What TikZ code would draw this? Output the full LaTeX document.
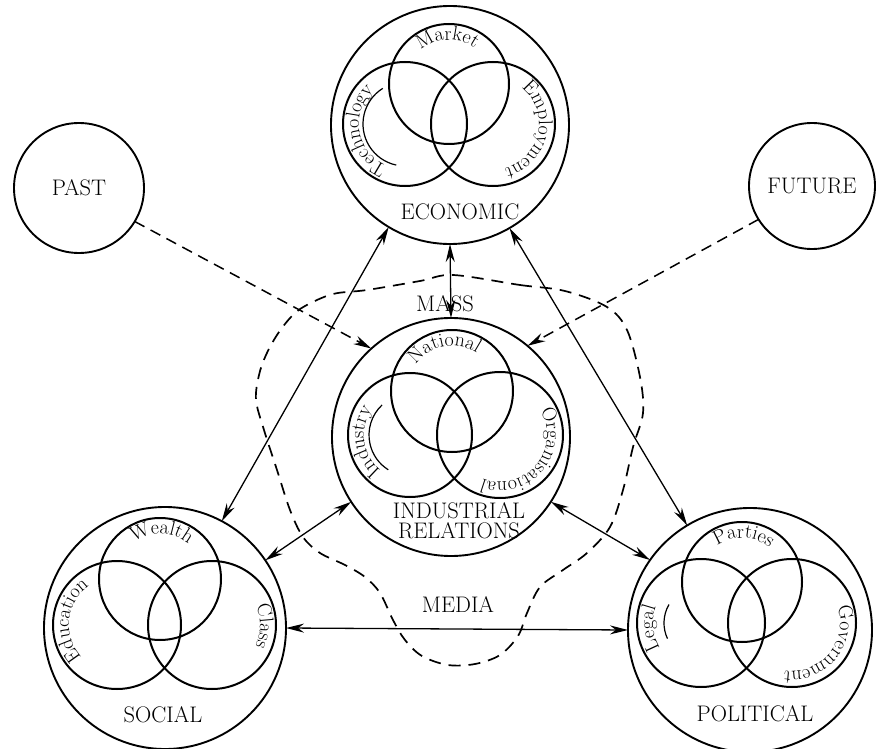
\documentclass[tikz,border=0pt]{standalone}
\usepackage{fontspec}
\usetikzlibrary{arrows.meta,decorations.text}
\newcommand\bigfont{\fontsize{22.5}{20}\selectfont}
\newcommand\vennfont{\fontsize{20}{20}\selectfont}
% word set round the inside of a Venn circle: centre, radius, middle angle, word
\newcommand\arcword[4]{%
  \path[decorate,decoration={text along path,text align=center,text={|\vennfont|#4}}]
    (#1) ++({#3+100}:#2) arc[start angle={#3+100},end angle={#3-100},radius=#2];}

\begin{document}
\begin{tikzpicture}[x=1pt,y=1pt,
  sphere/.style={circle,draw,line width=1.9pt,inner sep=0pt,outer sep=0pt},
  lbl/.style={font=\bigfont,inner sep=1pt},
  venn/.style={line width=2pt},
  link/.style={line width=1.3pt,{Stealth[length=18pt,width=9pt]}-{Stealth[length=18pt,width=9pt]}},
  flow/.style={line width=1.5pt,dash pattern=on 11pt off 7pt,-{Stealth[length=18pt,width=9pt]}},
  massline/.style={line width=1.7pt,dash pattern=on 12pt off 8pt}]
  \useasboundingbox (0,0) rectangle (876,-749);

  % the mass media boundary
  \draw [massline] plot [smooth cycle,tension=0.55] coordinates {
    (453,-275) (520,-285) (565,-291) (607,-307) (627,-330) (640,-377) (643,-413)
    (633,-447) (623,-490) (610,-527) (587,-553) (563,-570) (540,-587) (527,-613)
    (518,-636) (500,-655) (475,-664) (448,-665) (422,-656) (405,-640) (393,-620)
    (380,-593) (365,-577) (345,-565) (320,-553) (303,-537) (290,-510) (277,-470)
    (264,-430) (256,-400) (259,-375) (266,-355) (277,-335) (291,-317) (305,-306)
    (333,-294) (367,-290) (420,-281)};

  % main circles
  \node [sphere,minimum size=130pt,font=\bigfont] (past) at (79,-188) {PAST};
  \node [sphere,minimum size=126pt,font=\bigfont] (future) at (812,-186) {FUTURE};
  \node [sphere,minimum size=238pt] (econ) at (450,-125) {};
  \node [sphere,minimum size=238pt] (ind) at (451,-437) {};
  \node [sphere,minimum size=242pt] (soc) at (165,-628) {};
  \node [sphere,minimum size=244pt] (pol) at (750,-630) {};

  % economic
  \draw [venn] (449,-84) circle [radius=60];
  \draw [venn] (405,-124) circle [radius=62];
  \draw [venn] (493,-124) circle [radius=62];
  \draw [line width=1.2pt] (405,-124) ++(122:42) arc [start angle=122,end angle=258,radius=42];
  \arcword{449,-84}{44}{92}{Market}
  \arcword{405,-124}{46}{190}{Technology}
  \arcword{493,-124}{46}{-12}{Employment}
  \node [lbl] (econlab) at (460,-212) {ECONOMIC};

  % industrial relations
  \draw [venn] (452,-391) circle [radius=61];
  \draw [venn] (410,-435) circle [radius=62];
  \draw [venn] (500,-435) circle [radius=63];
  \draw [line width=1.2pt] (410,-435) ++(133:41) arc [start angle=133,end angle=238,radius=41];
  \arcword{452,-391}{45}{100}{National}
  \arcword{410,-435}{46}{188}{Industry}
  \arcword{500,-435}{47}{-40}{Organisational}
  \node [lbl,align=center] (indlab) at (459,-521) {INDUSTRIAL\\RELATIONS};

  % social
  \draw [venn] (160,-579) circle [radius=61];
  \draw [venn] (117,-625) circle [radius=64];
  \draw [venn] (212,-625) circle [radius=64];
  \arcword{160,-579}{45}{88}{Wealth}
  \arcword{117,-625}{48}{174}{Education}
  \arcword{212,-625}{48}{-1}{Class}
  \node [lbl] (soclab) at (163,-715) {SOCIAL};

  % political
  \draw [venn] (742,-582) circle [radius=60];
  \draw [venn] (701,-623) circle [radius=64];
  \draw [venn] (792,-623) circle [radius=64];
  \draw [line width=1.2pt] (701,-623) ++(150:37) arc [start angle=150,end angle=205,radius=37];
  \arcword{742,-582}{44}{88}{Parties}
  \arcword{701,-623}{48}{186}{Legal}
  \arcword{792,-623}{48}{-40}{Government}
  \node [lbl] (pollab) at (755,-714) {POLITICAL};

  \node [lbl] (masslab) at (445,-304) {MASS};
  \node [lbl] (medialab) at (458,-605) {MEDIA};

  % links
  \draw [link] (econ.239.5) -- (soc.62);
  \draw [link] (econ.300.5) -- (pol.121);
  \draw [link] (econ.south) -- (ind.north);
  \draw [link] (ind.213) -- (soc.34);
  \draw [link] (ind.327.5) -- (pol.145.6);
  \draw [link] (soc.east) -- (pol.west);
  \draw [flow] (past.-31) -- (ind.132);
  \draw [flow] (future.212) -- (ind.50.7);
\end{tikzpicture}
\end{document}
